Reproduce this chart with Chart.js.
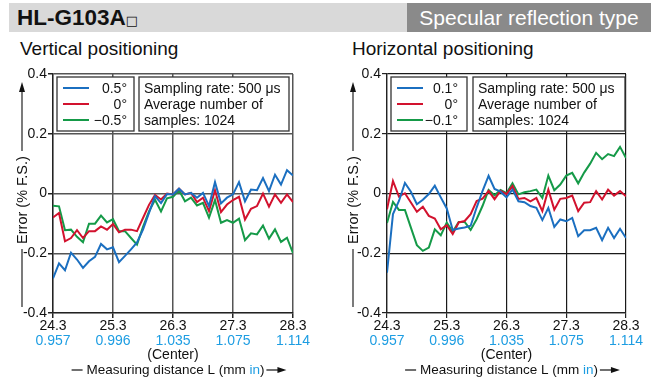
<!DOCTYPE html>
<html><head><meta charset="utf-8">
<script src="https://cdn.jsdelivr.net/npm/chart.js@4.4.1/dist/chart.umd.min.js"></script>
<style>
html,body{margin:0;padding:0;background:#fff;width:660px;height:382px;overflow:hidden;font-family:"Liberation Sans",Arial,sans-serif;}
#band{position:absolute;left:9px;top:3px;width:642px;height:29px;background:#d9d9d9;}
#model{position:absolute;left:17px;top:3px;height:29px;line-height:29px;font-weight:bold;font-size:22.5px;color:#111;white-space:nowrap;}
#model span{font-weight:normal;font-size:13px;font-family:"DejaVu Sans",sans-serif;}
#type{position:absolute;left:407px;top:3px;width:244px;height:29px;background:#8a8a8a;color:#fff;font-size:21px;line-height:29px;text-align:center;white-space:nowrap;}
.sub{position:absolute;top:38px;font-size:19px;color:#111;white-space:nowrap;}
.wrap{position:absolute;top:0;width:330px;height:382px;}
</style></head>
<body>
<div id="band"></div>
<div id="model">HL-G103A<span>□</span></div>
<div id="type">Specular reflection type</div>
<div class="sub" style="left:20px">Vertical positioning</div>
<div class="sub" style="left:352px">Horizontal positioning</div>
<div class="wrap" style="left:0"><canvas id="c1" width="330" height="382"></canvas></div>
<div class="wrap" style="left:330px"><canvas id="c2" width="330" height="382"></canvas></div>
<script>
// ---- data ----
const distances = [24.3,24.4,24.5,24.6,24.7,24.8,24.9,25.0,25.1,25.2,25.3,25.4,25.5,25.6,25.7,25.8,25.9,26.0,26.1,26.2,26.3,26.4,26.5,26.6,26.7,26.8,26.9,27.0,27.1,27.2,27.3,27.4,27.5,27.6,27.7,27.8,27.9,28.0,28.1,28.2,28.3];
const mmTicks = [24.3,25.3,26.3,27.3,28.3];
const mmTickLabels = ["24.3","25.3","26.3","27.3","28.3"];
const inchTickLabels = ["0.957","0.996","1.035","1.075","1.114"];
const centerLabel = "(Center)";
const yTicks = [-0.4,-0.2,0,0.2,0.4];
const yTickLabels = ["-0.4","-0.2","0","0.2","0.4"];

const vertLabels = ["0.5°","0°","\u22120.5°"];
const vertBlue = [-0.284,-0.234,-0.257,-0.198,-0.221,-0.249,-0.227,-0.212,-0.169,-0.187,-0.180,-0.230,-0.209,-0.187,-0.164,-0.121,-0.065,-0.009,-0.032,-0.002,-0.003,0.016,-0.003,0.002,-0.014,0.002,-0.042,0.038,-0.033,-0.014,-0.003,0.038,-0.026,0.013,0.011,0.052,0.008,0.063,0.030,0.078,0.060];
const vertRed = [-0.080,-0.065,-0.160,-0.149,-0.123,-0.149,-0.126,-0.126,-0.110,-0.121,-0.102,-0.130,-0.121,-0.121,-0.126,-0.082,-0.038,-0.005,-0.020,0.000,-0.003,0.016,-0.003,0.002,-0.029,-0.014,-0.059,0.011,-0.062,-0.037,-0.022,-0.011,-0.087,-0.051,-0.042,0.000,-0.044,-0.003,-0.031,-0.003,-0.029];
const vertGreen = [-0.041,-0.043,-0.123,-0.121,-0.145,-0.163,-0.101,-0.101,-0.074,-0.097,-0.086,-0.126,-0.126,-0.149,-0.171,-0.112,-0.060,-0.021,-0.060,-0.016,-0.011,0.011,-0.026,-0.014,-0.040,-0.031,-0.081,-0.022,-0.098,-0.089,-0.098,-0.084,-0.156,-0.133,-0.137,-0.107,-0.151,-0.120,-0.162,-0.148,-0.200];

const horizLabels = ["0.1°","0°","\u22120.1°"];
const horizBlue = [-0.265,-0.069,-0.025,0.035,0.006,-0.036,-0.021,-0.002,0.026,-0.013,-0.050,-0.122,-0.117,-0.114,-0.108,-0.047,0.009,0.059,0.015,0.006,-0.013,0.013,-0.026,-0.029,-0.042,-0.048,-0.089,-0.048,-0.112,-0.087,-0.093,-0.082,-0.143,-0.123,-0.123,-0.115,-0.156,-0.115,-0.149,-0.118,-0.149];
const horizRed = [-0.053,0.042,-0.010,0.001,-0.030,-0.061,-0.044,-0.075,-0.084,-0.120,-0.106,-0.136,-0.097,-0.092,-0.069,-0.025,-0.017,0.009,-0.019,0.009,-0.002,0.025,-0.018,-0.015,-0.026,-0.015,-0.059,0.013,-0.054,-0.018,-0.015,-0.007,-0.059,-0.031,-0.029,0.008,-0.020,0.013,-0.007,0.008,-0.009];
const horizGreen = [-0.099,-0.028,-0.055,-0.055,-0.114,-0.173,-0.192,-0.181,-0.120,-0.140,-0.097,-0.128,-0.095,-0.095,-0.122,-0.086,-0.041,0.012,-0.006,0.012,0.001,0.034,-0.003,0.004,0.008,0.013,-0.015,0.060,0.011,0.030,0.060,0.069,0.034,0.070,0.100,0.136,0.115,0.132,0.125,0.156,0.119];

const infoLines = ["Sampling rate: 500 \u03bcs","Average number of","samples: 1024"];
const yTitle = "Error (% F.S.)";
const xTitleParts = ["Measuring distance L (mm ","in",")"];

const COLORS = ["#1b6fc0","#d2122e","#159a48"];
const INCH = "#1d9de2";
const FONT = '"Liberation Sans", Arial, sans-serif';

const decor = {
  id: 'decor',
  afterDraw(chart, args, o) {
    const ctx = chart.ctx, xs = chart.scales.x, ca = chart.chartArea;
    ctx.save();
    // inch labels
    ctx.font = '14px ' + FONT; ctx.fillStyle = INCH; ctx.textAlign = 'center'; ctx.textBaseline = 'middle';
    mmTicks.forEach((v, i) => ctx.fillText(inchTickLabels[i], xs.getPixelForValue(v), 341));
    // legend box
    const lb = o.legend;
    ctx.fillStyle = '#fff'; ctx.strokeStyle = '#333'; ctx.lineWidth = 1.3;
    ctx.fillRect(lb.x1, lb.y1, lb.x2 - lb.x1, lb.y2 - lb.y1);
    ctx.strokeRect(lb.x1, lb.y1, lb.x2 - lb.x1, lb.y2 - lb.y1);
    ctx.font = '14px ' + FONT; ctx.textAlign = 'right'; ctx.textBaseline = 'middle';
    chart.data.datasets.forEach((ds, i) => {
      const y = lb.y1 + 11 + i * 16;
      ctx.strokeStyle = ds.borderColor; ctx.lineWidth = 2;
      ctx.beginPath(); ctx.moveTo(lb.lx1, y); ctx.lineTo(lb.lx2, y); ctx.stroke();
      ctx.fillStyle = '#111'; ctx.fillText(ds.label, lb.tx, y + 1);
    });
    // info box
    const ib = o.info;
    ctx.fillStyle = '#fff'; ctx.strokeStyle = '#333'; ctx.lineWidth = 1.3;
    ctx.fillRect(ib.x1, lb.y1, ib.x2 - ib.x1, lb.y2 - lb.y1);
    ctx.strokeRect(ib.x1, lb.y1, ib.x2 - ib.x1, lb.y2 - lb.y1);
    ctx.fillStyle = '#111'; ctx.textAlign = 'left';
    infoLines.forEach((t, i) => ctx.fillText(t, ib.tx, lb.y1 + 12 + i * 16));
    // y title with arrow
    ctx.font = '14.5px ' + FONT; ctx.textAlign = 'center'; ctx.textBaseline = 'middle';
    const w = ctx.measureText(yTitle).width, cy = 200, tx = o.yTitleX;
    ctx.save(); ctx.translate(tx, cy); ctx.rotate(-Math.PI / 2); ctx.fillStyle = '#111'; ctx.fillText(yTitle, 0, 0); ctx.restore();
    ctx.strokeStyle = '#222'; ctx.lineWidth = 1.2; ctx.fillStyle = '#111';
    ctx.beginPath(); ctx.moveTo(tx - 1, 307); ctx.lineTo(tx - 1, cy + w / 2 + 5); ctx.stroke();
    ctx.beginPath(); ctx.moveTo(tx - 1, cy - w / 2 - 5); ctx.lineTo(tx - 1, 91); ctx.stroke();
    ctx.beginPath(); ctx.moveTo(tx - 1, 82); ctx.lineTo(tx - 4, 92); ctx.lineTo(tx + 2, 92); ctx.closePath(); ctx.fill();
    // x title
    ctx.font = '13.5px ' + FONT; ctx.textAlign = 'left';
    const pw = xTitleParts.map(p => ctx.measureText(p).width);
    const W = pw[0] + pw[1] + pw[2];
    const total = 11 + 4 + W + 2 + 20;
    let x = (ca.left + ca.right) / 2 + 6 - total / 2; const y = 370;
    ctx.strokeStyle = '#111'; ctx.lineWidth = 1.2;
    ctx.beginPath(); ctx.moveTo(x, y); ctx.lineTo(x + 11, y); ctx.stroke();
    x += 15;
    ctx.fillStyle = '#111'; ctx.fillText(xTitleParts[0], x, y); x += pw[0];
    ctx.fillStyle = INCH; ctx.fillText(xTitleParts[1], x, y); x += pw[1];
    ctx.fillStyle = '#111'; ctx.fillText(xTitleParts[2], x, y); x += pw[2] + 2;
    ctx.beginPath(); ctx.moveTo(x, y); ctx.lineTo(x + 13, y); ctx.stroke();
    ctx.beginPath(); ctx.moveTo(x + 20, y); ctx.lineTo(x + 11, y - 3); ctx.lineTo(x + 11, y + 3); ctx.closePath(); ctx.fill();
    ctx.restore();
  }
};

function makeChart(id, labels, series, opt) {
  return new Chart(document.getElementById(id), {
    type: 'line',
    data: {
      datasets: series.map((s, i) => ({
        label: labels[i],
        data: distances.map((d, k) => ({ x: d, y: s[k] })),
        borderColor: COLORS[i], borderWidth: 2, pointRadius: 0, tension: 0, fill: false
      }))
    },
    options: {
      responsive: false, animation: false, devicePixelRatio: 1,
      layout: { padding: { top: 74, right: opt.right, bottom: 0, left: 0 } },
      plugins: { legend: { display: false }, tooltip: { enabled: false }, decor: opt.decor },
      scales: {
        x: {
          type: 'linear', min: 24.3, max: 28.3,
          afterBuildTicks: s => { s.ticks = mmTicks.map(v => ({ value: v })); },
          afterFit: s => { s.height = 69; },
          grid: { color: opt.grid, lineWidth: opt.gw, tickLength: 5, tickColor: '#222' },
          border: { color: '#222', width: 1.3 },
          ticks: {
            maxRotation: 0, autoSkip: false, padding: 1, color: '#111',
            font: { family: FONT, size: 14, lineHeight: 1.04 },
            callback: (v, i) => i === 2 ? [mmTickLabels[i], '', centerLabel] : [mmTickLabels[i], '']
          }
        },
        y: {
          min: -0.4, max: 0.4,
          afterBuildTicks: s => { s.ticks = yTicks.map(v => ({ value: v })); },
          afterFit: s => { s.width = opt.left; },
          grid: { color: opt.grid, lineWidth: opt.gw, tickLength: 5, tickColor: '#222' },
          border: { color: '#222', width: 1.3 },
          ticks: { padding: 1, color: '#111', font: { family: FONT, size: 14 }, callback: (v, i) => yTickLabels[i] }
        }
      }
    },
    plugins: [decor]
  });
}

makeChart('c1', vertLabels, [vertBlue, vertRed, vertGreen], {
  left: 53, right: 37, grid: '#555', gw: 1.5,
  decor: { legend: { x1: 57, x2: 134, y1: 77, y2: 131, lx1: 63, lx2: 89, tx: 127 }, info: { x1: 139, x2: 289, tx: 144 }, yTitleX: 23 }
});
makeChart('c2', horizLabels, [horizBlue, horizRed, horizGreen], {
  left: 57, right: 34, grid: '#1a1a1a', gw: 1.2,
  decor: { legend: { x1: 61, x2: 137, y1: 77, y2: 131, lx1: 67, lx2: 93, tx: 128 }, info: { x1: 143, x2: 295, tx: 148 }, yTitleX: 24 }
});
</script>
</body></html>
